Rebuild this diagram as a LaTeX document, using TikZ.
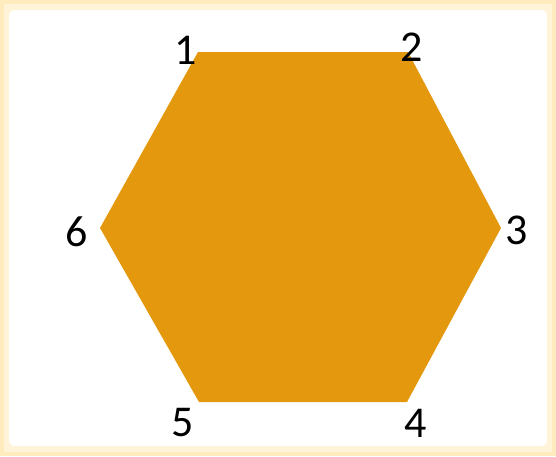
\documentclass[tikz,border=0pt]{standalone}
\usepackage{fontspec}
\setmainfont{Carlito}
\usetikzlibrary{positioning}

\definecolor{hexOrange}{RGB}{228,152,14}
\definecolor{glowYellow}{RGB}{255,236,190}

\begin{document}
\begin{tikzpicture}[
		x=1pt, y=-1pt,
		% label style for the corner numbers
		cornerLabel/.style={font=\fontsize{44}{44}\selectfont, text=black, inner sep=0pt},
		hexFill/.style={fill=hexOrange}
		]
		
		% =========================================================
		% FRAME WITH SOFT YELLOW EDGE
		% =========================================================
		\fill[glowYellow] (0,0) rectangle (556,456);
		\fill[glowYellow!60!white] (4,4) rectangle (552,452);
		\fill[white, rounded corners=6pt] (9,10) rectangle (547,446);
		\useasboundingbox (0,0) rectangle (556,456);
		
		% =========================================================
		% HEXAGON CORNERS
		% =========================================================
		\coordinate (V1) at (198,52);
		\coordinate (V2) at (408,52);
		\coordinate (V3) at (501,228);
		\coordinate (V4) at (407,402);
		\coordinate (V5) at (199,402);
		\coordinate (V6) at (100,228);
		
		\fill[hexFill] (V1) -- (V2) -- (V3) -- (V4) -- (V5) -- (V6) -- cycle;
		
		% =========================================================
		% CORNER NUMBERS
		% =========================================================
		\node[cornerLabel] (L1) at (186,50) {1};
		\node[cornerLabel] (L2) at (412,47) {2};
		\node[cornerLabel] (L3) at (517,230) {3};
		\node[cornerLabel] (L4) at (416,423) {4};
		\node[cornerLabel] (L5) at (183,423) {5};
		\node[cornerLabel] (L6) at (77,232) {6};
		
	\end{tikzpicture}
\end{document}
